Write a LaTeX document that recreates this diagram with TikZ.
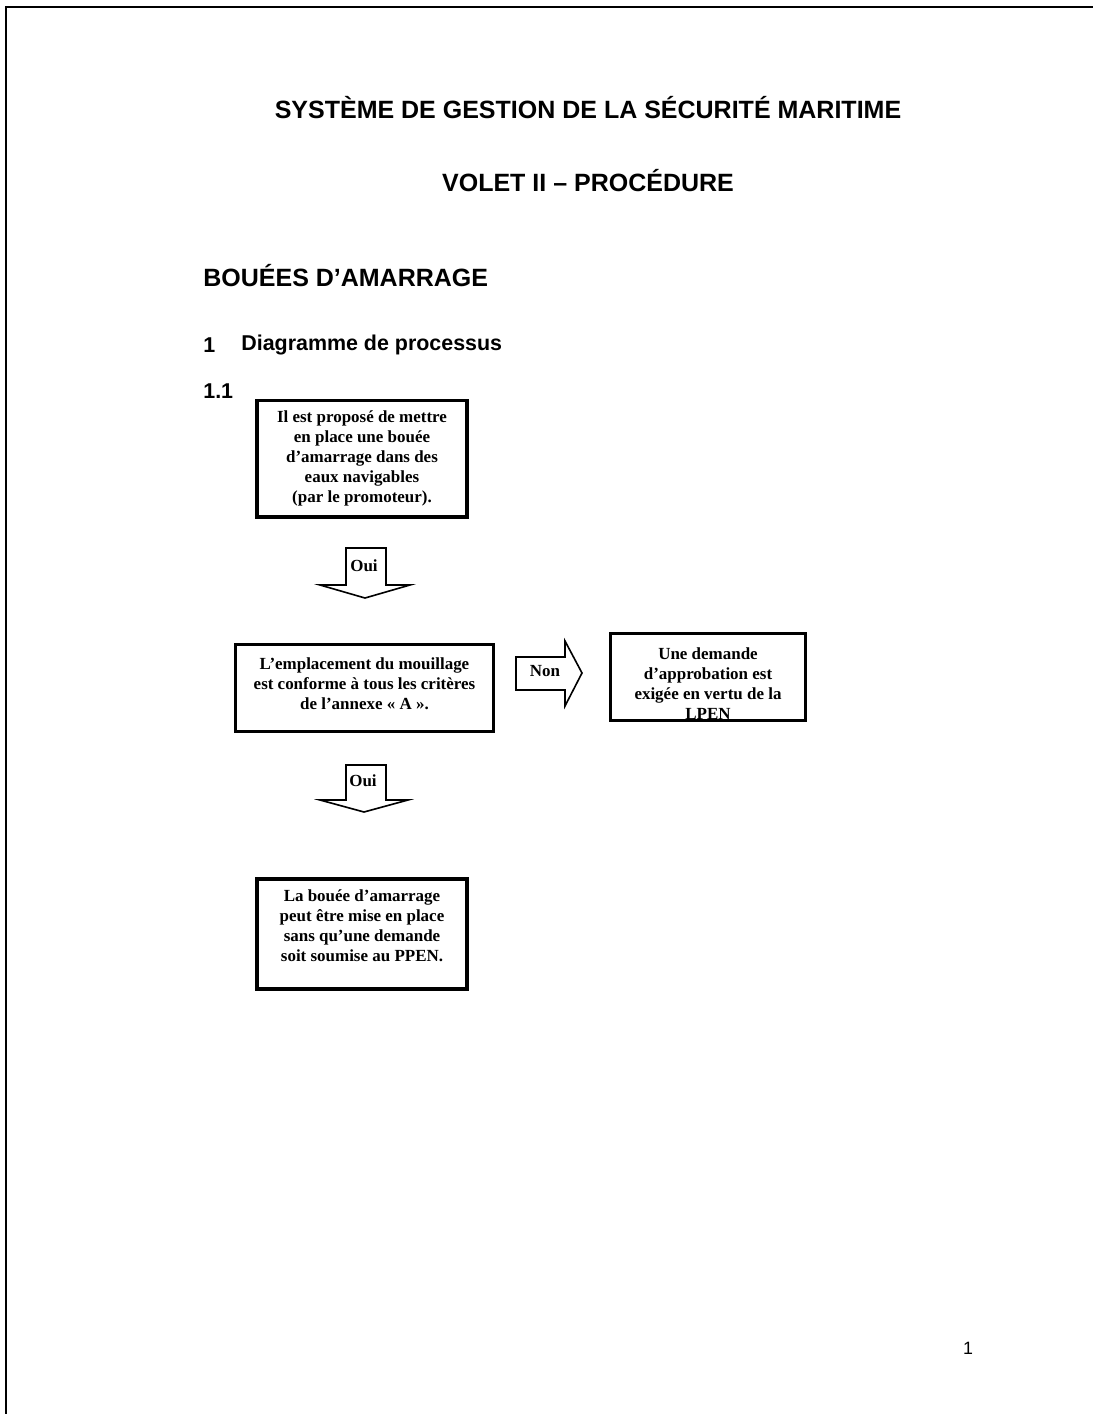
\documentclass[tikz,border=0pt]{standalone}
\usepackage{fontspec}
\setmainfont{Liberation Serif}
\setsansfont{Liberation Sans}
\usetikzlibrary{positioning}

\tikzset{
  heading/.style={font=\sffamily\bfseries\fontsize{14}{16}\selectfont, inner sep=0pt},
  subheading/.style={font=\sffamily\bfseries\fontsize{12}{14}\selectfont, inner sep=0pt, anchor=west},
  frame/.style={draw, line width=1.7pt, inner sep=0pt},
  boxtext/.style={font=\bfseries\fontsize{9.5}{11.2}\selectfont, align=center, inner sep=0pt},
  arrowtext/.style={font=\bfseries\fontsize{9.5}{11}\selectfont, inner sep=0pt},
  blockarrow/.style={draw, line width=0.9pt, line join=miter}
}

\begin{document}
\begin{tikzpicture}[x=0.56pt, y=-0.56pt]
\useasboundingbox (0,0) rectangle (1093,1414);

% page border
\draw[line width=1.1pt] (1093,7) -- (6,7) -- (6,1414);

% titles
\node[heading] (title) at (588,108) {SYSTÈME DE GESTION DE LA SÉCURITÉ MARITIME};
\node[heading] (volet) at (588,181) {VOLET II – PROCÉDURE};
\node[heading, anchor=west] (bouees) at (203,276) {BOUÉES D’AMARRAGE};
\node[subheading] (secnum) at (203,345) {1};
\node[subheading] (sectitle) at (241,345) {Diagramme de processus};
\node[subheading] (subnum) at (203,391) {1.1};

% boxes
\node[frame, minimum width=117.6pt, minimum height=65.5pt] (propose) at (362,458.5) {};
\node[boxtext, below=6.7pt of propose.north] (propose-txt) {Il est proposé de mettre\\ en place une bouée\\ d’amarrage dans des\\ eaux navigables\\ (par le promoteur).};

\node[frame, minimum width=145pt, minimum height=48.2pt] (conforme) at (364.5,688) {};
\node[boxtext, below=7.8pt of conforme.north] (conforme-txt) {L’emplacement du mouillage\\ est conforme à tous les critères\\ de l’annexe « A ».};

\node[inner sep=0pt, minimum width=108.6pt, minimum height=48.2pt] (approb) at (708,677) {};
\begin{scope}
  \clip (approb.south west) rectangle (approb.north east);
  \node[boxtext, below=7.8pt of approb.north] (approb-txt) {Une demande\\ d’approbation est\\ exigée en vertu de la\\ LPEN};
\end{scope}
\draw[line width=1.7pt] (approb.south west) rectangle (approb.north east);

\node[frame, minimum width=117.6pt, minimum height=61.6pt] (sansppen) at (362,934) {};
\node[boxtext, below=6.7pt of sansppen.north] (sansppen-txt) {La bouée d’amarrage\\ peut être mise en place\\ sans qu’une demande\\ soit soumise au PPEN.};

% block arrows
\node[arrowtext] (oui1) at (364,566) {Oui};
\draw[blockarrow] (346,548) -- (386,548) -- (386,585) -- (410,585) -- (365,598)
  -- (320,585) -- (346,585) -- cycle;

\node[arrowtext] (non) at (545,671) {Non};
\draw[blockarrow] (516,657) -- (565,657) -- (565,641) -- (582,673) -- (565,706)
  -- (565,690) -- (516,690) -- cycle;

\node[arrowtext] (oui2) at (363,781) {Oui};
\draw[blockarrow] (346,765) -- (386,765) -- (386,800) -- (408,800) -- (364,812)
  -- (320,800) -- (346,800) -- cycle;

% page number
\node[font=\sffamily\fontsize{10}{12}\selectfont, inner sep=0pt] (pagenum) at (968,1348) {1};
\end{tikzpicture}
\end{document}
